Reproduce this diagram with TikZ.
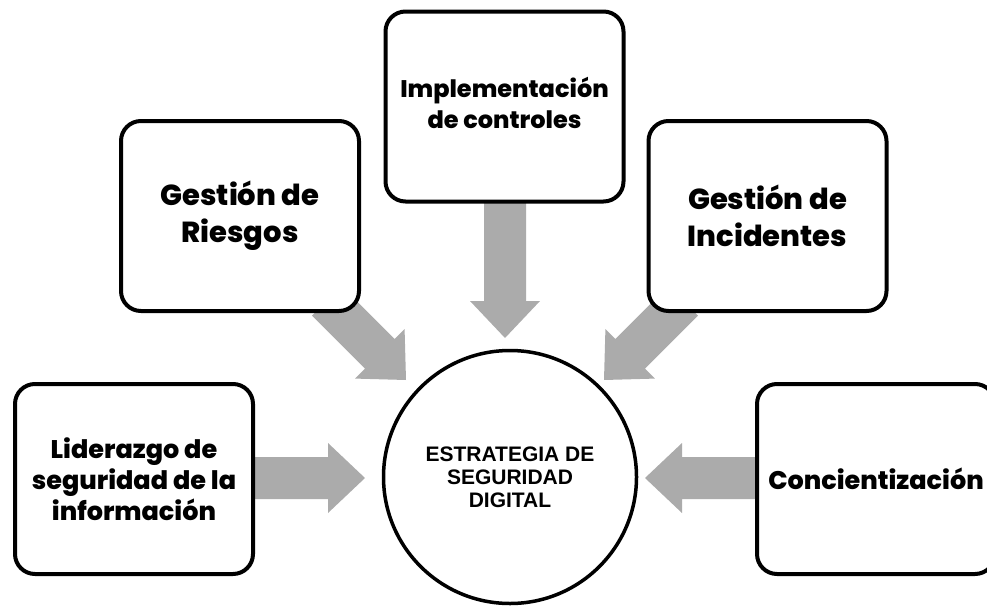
\documentclass[tikz,border=0pt]{standalone}
\usepackage{fontspec}
\newfontfamily\pop{Poppins ExtraBold}
\newfontfamily\lib{Liberation Sans}
\definecolor{arrowgray}{HTML}{ABABAB}
\newcommand\garrow[4]{%
  \begin{scope}[shift={(#1,#2)},rotate=#3]
    \fill[arrowgray] (0,0) -- (-37,35) -- (-37,21) -- (-37-#4,21) -- (-37-#4,-21) -- (-37,-21) -- (-37,-35) -- cycle;
  \end{scope}}
\begin{document}
\begin{tikzpicture}[x=1pt,y=-1pt,
  box/.style={draw=black,line width=4pt,rounded corners=20pt,fill=white,
    minimum width=238pt,minimum height=190pt,inner sep=0pt,align=center,
    font=\pop},
  big/.style={font=\pop\fontsize{29}{37}\selectfont},
  mid/.style={font=\pop\fontsize{25.5}{31}\selectfont},
  small/.style={font=\pop\fontsize{24}{31}\selectfont},
  hub/.style={draw=black,line width=3.5pt,circle,fill=white,minimum size=253pt,
    inner sep=0pt,align=center,font=\lib\bfseries\fontsize{21}{23}\selectfont}]
\useasboundingbox (0,0) rectangle (987,605);
\clip (0,0) rectangle (987,605);
% block arrows
\garrow{365}{478}{0}{80}
\garrow{645}{478}{180}{80}
\garrow{505}{338}{-90}{105}
\garrow{406}{380}{-45}{75}
\garrow{604}{380}{-135}{75}
% boxes
\node[box,mid] (lid) at (134,479) {Liderazgo de\\seguridad de la\\información};
\node[box,big] (rie) at (240,216) {Gestión de\\Riesgos};
\node[box] (imp) at (504.5,106.5) {};
\node[small,anchor=north,align=center] (impt) at (504.5,74) {Implementación\\de controles};
\node[box,big] (inc) at (767.5,216) {Gestión de\\Incidentes};
\node[box,mid] (con) at (876,479) {Concientización};
\node[hub] (hub) at (510,477) {ESTRATEGIA DE\\SEGURIDAD\\DIGITAL};
\end{tikzpicture}
\end{document}
